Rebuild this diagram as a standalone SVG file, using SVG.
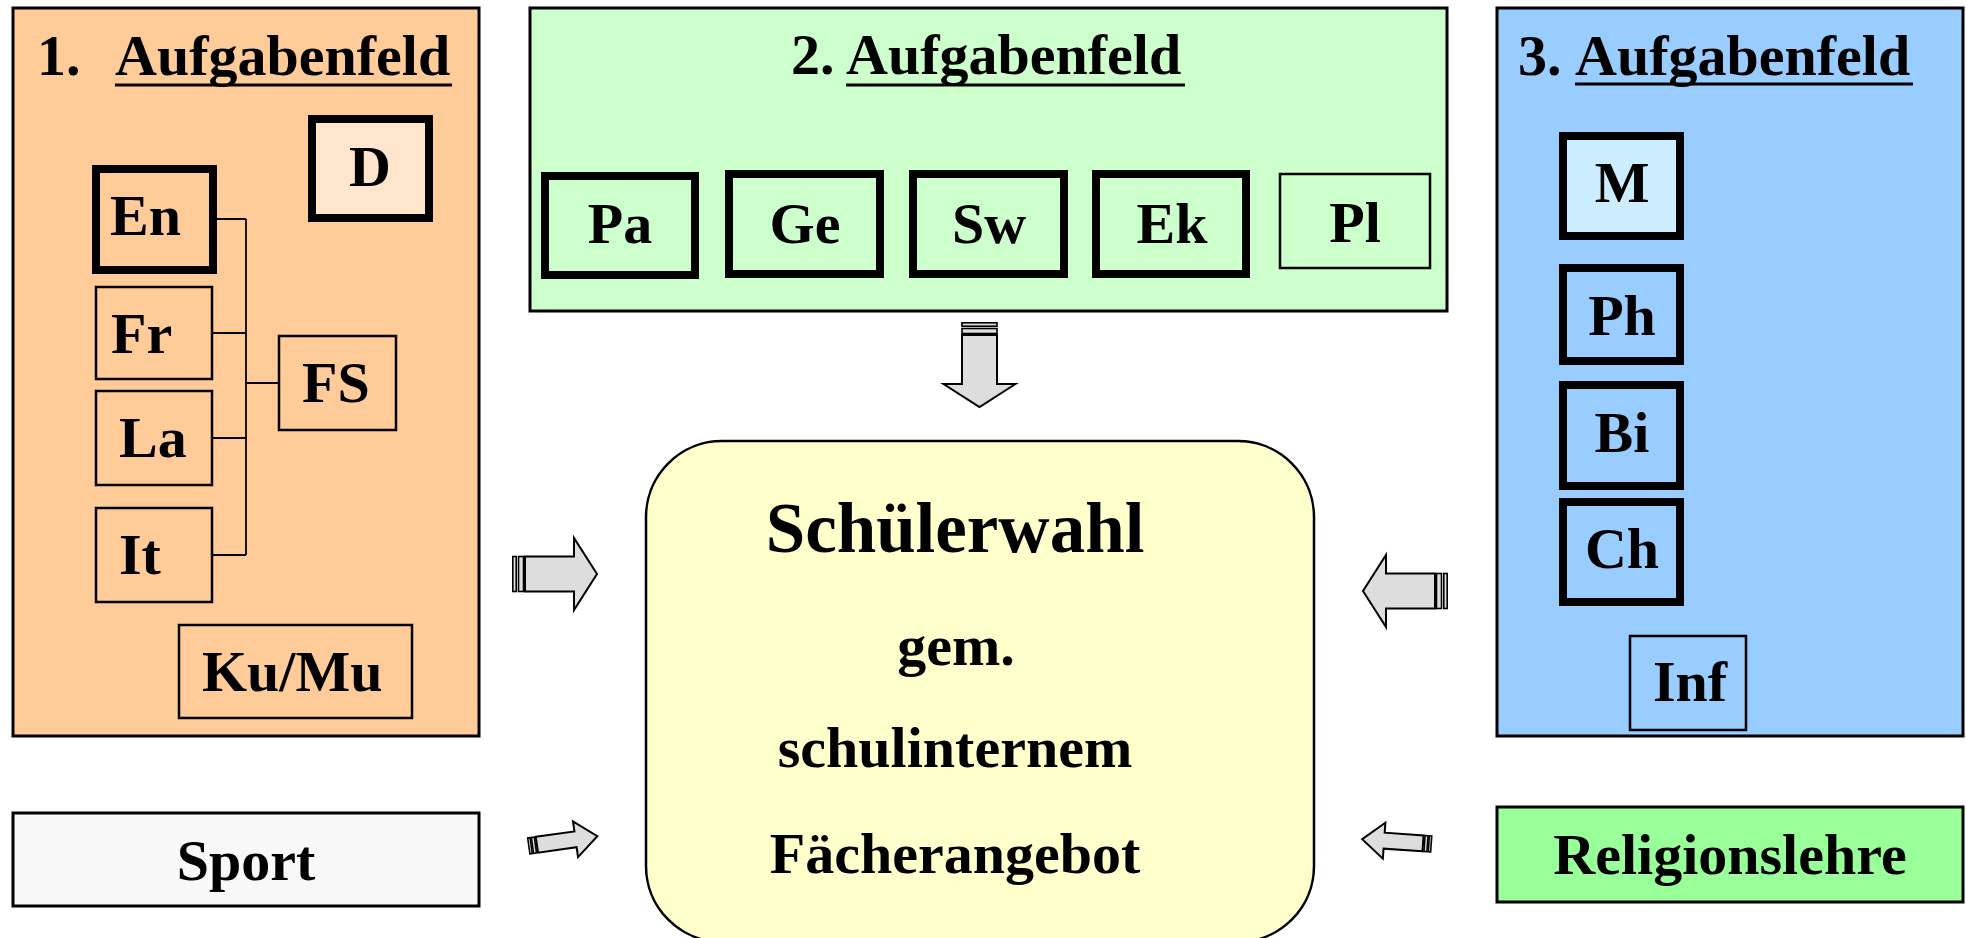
<svg xmlns="http://www.w3.org/2000/svg" xmlns:xlink="http://www.w3.org/1999/xlink" width="1966" height="938" viewBox="0 0 1966 938">
<style>
text{font-family:"Liberation Serif","Times New Roman",serif;font-weight:bold;font-size:58px;fill:#000}
.mid{text-anchor:middle}
.outer{stroke:#000;stroke-width:3}
.thick{stroke:#000;stroke-width:8}
.thin{stroke:#000;stroke-width:2.5}
.ul{stroke:#000;stroke-width:3}
.conn{stroke:#000;stroke-width:1.8;fill:none}
.arr{fill:#DDDDDD;stroke:#000;stroke-width:2;stroke-linejoin:miter}
.str{fill:#DDDDDD;stroke:#000;stroke-width:1.6}
</style>
<defs>
<g id="bigArrow">
<rect class="str" x="0.8" y="-17.5" width="3.4" height="35"/>
<rect class="str" x="6.5" y="-17.5" width="5" height="35"/>
<polygon class="arr" points="13,-17.5 62,-17.5 62,-36 85,0 62,36 62,17.5 13,17.5"/>
</g>
<g id="smallArrow">
<rect class="str" x="0.8" y="-8" width="2.4" height="16"/>
<rect class="str" x="4.5" y="-8" width="3" height="16"/>
<polygon class="arr" points="9,-8 48,-8 48,-18 70,0 48,18 48,8 9,8"/>
</g>
</defs>
<rect width="1966" height="938" fill="#FFFFFF"/>

<g id="feld1">
<rect class="outer" x="13" y="8" width="466" height="728" fill="#FFCC99"/>
<text x="37" y="75">1.</text>
<text x="115" y="75">Aufgabenfeld</text>
<line class="ul" x1="115" y1="85" x2="452" y2="85"/>
</g>
<g id="D"><rect class="thick" x="312" y="119" width="117" height="99" fill="#FFE5CC"/><text class="mid" x="370" y="186">D</text></g>
<g id="En"><rect class="thick" x="96" y="169" width="117" height="101" fill="#FFCC99"/><text x="110" y="235">En</text></g>
<g id="Fr"><rect class="thin" x="96" y="287" width="116" height="92" fill="#FFCC99"/><text x="111" y="353">Fr</text></g>
<g id="La"><rect class="thin" x="96" y="391" width="116" height="94" fill="#FFCC99"/><text x="119" y="457">La</text></g>
<g id="It"><rect class="thin" x="96" y="508" width="116" height="94" fill="#FFCC99"/><text x="119" y="574">It</text></g>
<g id="FS"><rect class="thin" x="279" y="336" width="117" height="94" fill="#FFCC99"/><text x="302" y="402">FS</text></g>
<g id="KuMu"><rect class="thin" x="179" y="625" width="233" height="93" fill="#FFCC99"/><text x="202" y="691">Ku/Mu</text></g>

<g id="feld2">
<rect class="outer" x="530" y="8" width="917" height="303" fill="#CCFFCC"/>
<text x="791" y="74">2.</text>
<text x="846" y="74">Aufgabenfeld</text>
<line class="ul" x1="846" y1="85" x2="1185" y2="85"/>
</g>
<g id="Pa"><rect class="thick" x="545" y="176" width="150" height="99" fill="#CCFFCC"/><text class="mid" x="620" y="243">Pa</text></g>
<g id="Ge"><rect class="thick" x="729" y="174" width="151" height="100" fill="#CCFFCC"/><text class="mid" x="805" y="243">Ge</text></g>
<g id="Sw"><rect class="thick" x="913" y="174" width="151" height="100" fill="#CCFFCC"/><text class="mid" x="989" y="243">Sw</text></g>
<g id="Ek"><rect class="thick" x="1096" y="174" width="150" height="100" fill="#CCFFCC"/><text class="mid" x="1172" y="243">Ek</text></g>
<g id="Pl"><rect class="thin" x="1280" y="174" width="150" height="94" fill="#CCFFCC"/><text class="mid" x="1355" y="242">Pl</text></g>

<g id="feld3">
<rect class="outer" x="1497" y="8" width="466" height="728" fill="#99CCFF"/>
<text x="1518" y="75">3.</text>
<text x="1575" y="75">Aufgabenfeld</text>
<line class="ul" x1="1575" y1="84" x2="1913" y2="84"/>
</g>
<g id="M"><rect class="thick" x="1563" y="136" width="117" height="100" fill="#CCECFF"/><text class="mid" x="1622" y="202">M</text></g>
<g id="Ph"><rect class="thick" x="1563" y="268" width="117" height="93" fill="#99CCFF"/><text class="mid" x="1622" y="335">Ph</text></g>
<g id="Bi"><rect class="thick" x="1563" y="385" width="117" height="101" fill="#99CCFF"/><text class="mid" x="1622" y="452">Bi</text></g>
<g id="Ch"><rect class="thick" x="1563" y="502" width="117" height="100" fill="#99CCFF"/><text class="mid" x="1622" y="568">Ch</text></g>
<g id="Inf"><rect class="thin" x="1630" y="636" width="116" height="94" fill="#99CCFF"/><text class="mid" x="1690" y="701">Inf</text></g>

<g id="Sport"><rect class="outer" x="13" y="813" width="466" height="93" fill="#F8F8F8"/><text class="mid" x="246" y="880">Sport</text></g>
<g id="Religionslehre"><rect class="outer" x="1497" y="807" width="466" height="95" fill="#99FF99"/><text class="mid" x="1730" y="874">Religionslehre</text></g>

<g id="Schuelerwahl">
<rect x="646" y="441" width="668" height="501" rx="76" ry="76" fill="#FFFFCC" stroke="#000" stroke-width="2.5"/>
<text class="mid" x="955" y="552" style="font-size:71px">Schülerwahl</text>
<text class="mid" x="956" y="665">gem.</text>
<text class="mid" x="955" y="767">schulinternem</text>
<text class="mid" x="955" y="873">Fächerangebot</text>
</g>

<g id="connectors">
<path class="conn" d="M217,219 H246 M213,333 H246 M213,438 H246 M213,555 H246 M246,219 V555 M246,383 H279"/>
<use xlink:href="#bigArrow" transform="translate(979.5,322) rotate(90)"/>
<use xlink:href="#bigArrow" transform="translate(512,574)"/>
<use xlink:href="#bigArrow" transform="translate(1448,591) rotate(180)"/>
<use xlink:href="#smallArrow" transform="translate(528,846) rotate(-8)"/>
<use xlink:href="#smallArrow" transform="translate(1432,844) rotate(184)"/>
</g>
</svg>
